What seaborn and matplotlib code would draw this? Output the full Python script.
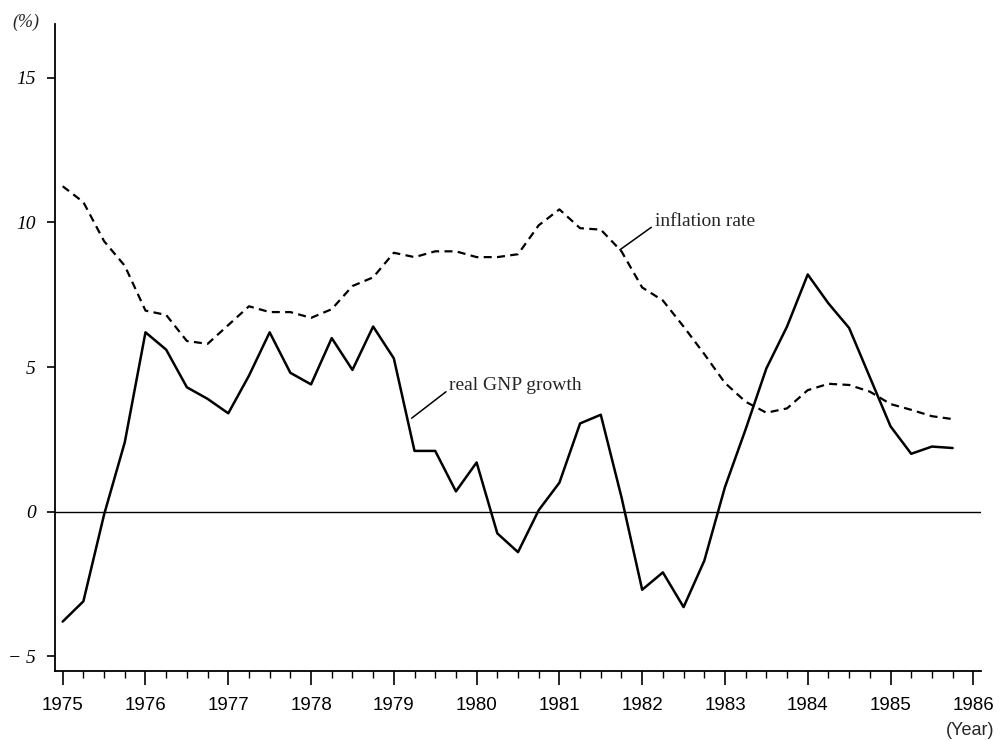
import numpy as np
import pandas as pd
import matplotlib
matplotlib.use("Agg")
import matplotlib.pyplot as plt
import seaborn as sns
from matplotlib.ticker import MultipleLocator, FixedLocator

# ---- data (quarterly, 1975Q1 .. 1985Q4) ----
gnp_growth = [-3.8, -3.1, -0.1, 2.4, 6.2, 5.6, 4.3, 3.9, 3.4, 4.7, 6.2, 4.8,
              4.4, 6.0, 4.9, 6.4, 5.3, 2.1, 2.1, 0.7, 1.7, -0.75, -1.4, 0.05,
              1.0, 3.05, 3.35, 0.5, -2.7, -2.1, -3.3, -1.7, 0.85, 2.85, 4.95, 6.4,
              8.2, 7.2, 6.35, 4.65, 2.95, 2.0, 2.25, 2.2]
inflation = [11.25, 10.7, 9.35, 8.5, 6.95, 6.8, 5.9, 5.8, 6.45, 7.1, 6.9, 6.9,
             6.7, 7.0, 7.8, 8.1, 8.95, 8.8, 9.0, 9.0, 8.8, 8.8, 8.9, 9.9,
             10.45, 9.8, 9.75, 9.0, 7.75, 7.3, 6.4, 5.45, 4.45, 3.8, 3.42, 3.57,
             4.2, 4.42, 4.38, 4.15, 3.72, 3.52, 3.3, 3.2]
start_year = 1975
year_ticks = list(range(1975, 1987))
y_ticks = [-5, 0, 5, 10, 15]
y_tick_labels = ["\u2212 5", "0", "5", "10", "15"]
label_inflation = "inflation rate"
label_gnp = "real GNP growth"

t = start_year + 0.25 * np.arange(len(gnp_growth))
df = pd.DataFrame({"t": t, "gnp": gnp_growth, "inf": inflation})

sns.set_style("ticks")
plt.rcParams["font.family"] = ["Liberation Serif", "DejaVu Serif"]
sans = ["Liberation Sans Narrow", "Liberation Sans"]

fig = plt.figure(figsize=(10, 7.4), dpi=100)
ax = fig.add_axes([0.055, 0.0936, 0.926, 0.874])

sns.lineplot(data=df, x="t", y="gnp", ax=ax, color="black", lw=1.8)
sns.lineplot(data=df, x="t", y="inf", ax=ax, color="black", lw=1.6,
             linestyle=(0, (3.6, 2.4)))
ax.axhline(0, color="black", lw=1.0, zorder=1)

ax.set_xlim(1974.907, 1986.093)
ax.set_ylim(-5.5, 16.86)

for s in ["top", "right"]:
    ax.spines[s].set_visible(False)
for s in ["left", "bottom"]:
    ax.spines[s].set_linewidth(1.3)
    ax.spines[s].set_color("black")

ax.xaxis.set_major_locator(FixedLocator(year_ticks))
ax.xaxis.set_minor_locator(MultipleLocator(0.25))
ax.set_xticklabels([str(y) for y in year_ticks], family=sans, fontsize=13.5)
ax.tick_params(axis="x", which="major", direction="out", length=10, width=1.2, pad=9, colors="black")
ax.tick_params(axis="x", which="minor", direction="out", length=5, width=1.0, colors="black")

ax.yaxis.set_major_locator(FixedLocator(y_ticks))
ax.set_yticklabels(y_tick_labels, style="italic", fontsize=14)
ax.tick_params(axis="y", which="major", direction="out", length=6, width=1.2, pad=8, colors="black")
ax.tick_params(axis="y", which="minor", left=False)

ax.set_xlabel("")
ax.set_ylabel("")

fig.text(0.012, 0.970, "(%)", fontsize=13, style="italic", ha="left", va="center")
fig.text(0.994, 0.0135, "(Year)", fontsize=13, ha="right", va="center", family=sans)

ax.annotate(label_inflation, xy=(1981.73, 9.05), xytext=(1982.15, 10.03),
            fontsize=14, ha="left", va="center",
            arrowprops=dict(arrowstyle="-", color="black", lw=1.1, shrinkA=0, shrinkB=0,
                            relpos=(0, 0.3)))
ax.annotate(label_gnp, xy=(1979.215, 3.23), xytext=(1979.67, 4.35),
            fontsize=14, ha="left", va="center",
            arrowprops=dict(arrowstyle="-", color="black", lw=1.1, shrinkA=0, shrinkB=0,
                            relpos=(0, 0.3)))

fig.savefig("out.png", dpi=100)
